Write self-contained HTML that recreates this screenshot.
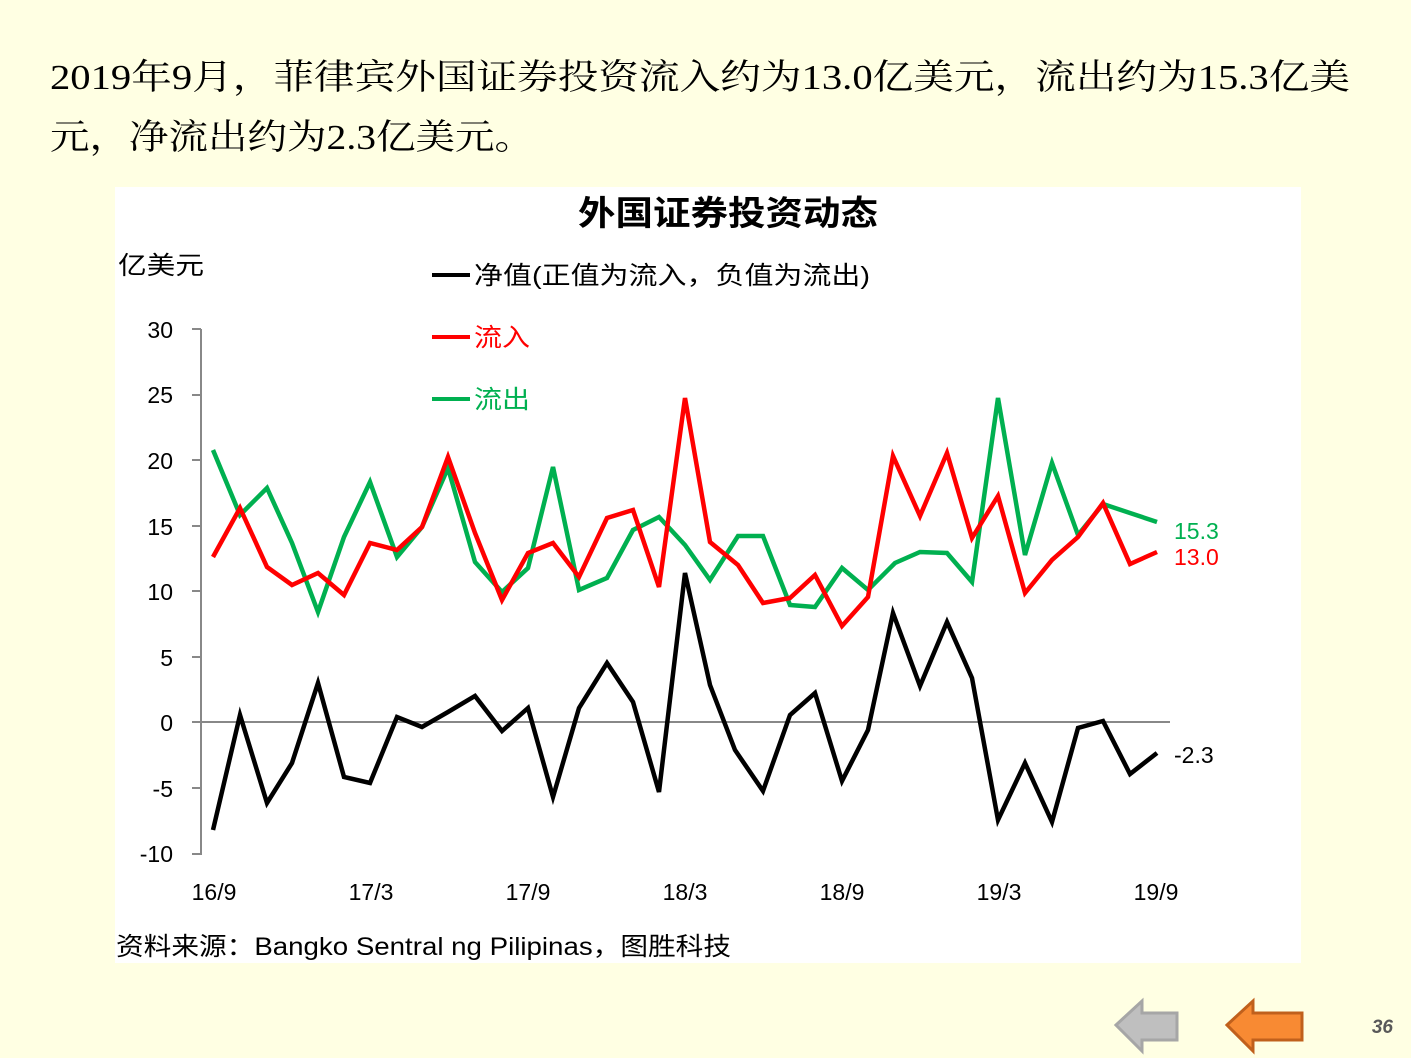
<!DOCTYPE html>
<html><head><meta charset="utf-8"><style>
html,body{margin:0;padding:0;background:#ffffe3;}
svg{display:block}
</style></head><body>
<svg width="1411" height="1058" viewBox="0 0 1411 1058" xmlns="http://www.w3.org/2000/svg">
<rect width="1411" height="1058" fill="#ffffe3"/>
<g font-family="'Liberation Serif','Noto Serif CJK SC',serif" font-size="35" fill="#000">
<text x="50" y="89" textLength="1300" lengthAdjust="spacingAndGlyphs">2019年9月，菲律宾外国证券投资流入约为13.0亿美元，流出约为15.3亿美</text>
<text x="50" y="149" textLength="484" lengthAdjust="spacingAndGlyphs">元，净流出约为2.3亿美元。</text>
</g>
<rect x="115" y="187" width="1186" height="776" fill="#fff"/>
<g font-family="'Liberation Sans','Noto Sans CJK SC',sans-serif">
<text x="578" y="225" font-size="34" font-weight="bold" textLength="300" lengthAdjust="spacingAndGlyphs">外国证券投资动态</text>
<text x="118" y="274" font-size="25" textLength="86" lengthAdjust="spacingAndGlyphs">亿美元</text>
<line x1="432" y1="275" x2="470" y2="275" stroke="#000" stroke-width="4"/>
<text x="474" y="284" font-size="25" textLength="396" lengthAdjust="spacingAndGlyphs">净值(正值为流入，负值为流出)</text>
<line x1="432" y1="337" x2="470" y2="337" stroke="#f00" stroke-width="4"/>
<text x="474" y="346" font-size="25" fill="#f00" textLength="56" lengthAdjust="spacingAndGlyphs">流入</text>
<line x1="432" y1="399" x2="470" y2="399" stroke="#00b050" stroke-width="4"/>
<text x="474" y="408" font-size="25" fill="#00b050" textLength="56" lengthAdjust="spacingAndGlyphs">流出</text>
<g font-size="23" text-anchor="end">
<text x="173" y="338">30</text><text x="173" y="403">25</text><text x="173" y="469">20</text>
<text x="173" y="535">15</text><text x="173" y="600">10</text><text x="173" y="666">5</text>
<text x="173" y="731">0</text><text x="173" y="797">-5</text><text x="173" y="862">-10</text>
</g>
<g font-size="23" text-anchor="middle">
<text x="214" y="900">16/9</text><text x="371" y="900">17/3</text><text x="528" y="900">17/9</text>
<text x="685" y="900">18/3</text><text x="842" y="900">18/9</text><text x="999" y="900">19/3</text>
<text x="1156" y="900">19/9</text>
</g>
<text x="1174" y="539" font-size="23" fill="#00b050">15.3</text>
<text x="1174" y="565" font-size="23" fill="#f00">13.0</text>
<text x="1174" y="763" font-size="23">-2.3</text>
<text x="116" y="955" font-size="25" textLength="615" lengthAdjust="spacingAndGlyphs">资料来源：Bangko Sentral ng Pilipinas，图胜科技</text>
</g>
<g stroke="#888" stroke-width="2" fill="none">
<line x1="201" y1="329" x2="201" y2="855"/>
<line x1="201" y1="722" x2="1170" y2="722"/>
<path d="M192 329H201M192 395H201M192 460H201M192 526H201M192 591H201M192 657H201M192 722H201M192 788H201M192 854H201"/>
</g>
<g fill="none" stroke-width="4.5" stroke-linejoin="miter">
<polyline stroke="#00b050" points="213,450 240,515 267,488 292,543 318,612 344,537 370,482 397,557 422,527 448,468 475,562 502,592 528,568 553,467 579,590 607,578 633,530 659,517 685,545 710,580 738,536 763,536 790,605 815,607 842,568 868,590 895,563 920,552 947,553 972,582 998,398 1025,555 1052,463 1078,535 1103,504 1130,513 1157,522"/>
<polyline stroke="#f00" points="213,557 240,508 267,567 292,585 318,573 344,595 370,543 397,550 422,527 448,457 475,533 502,600 528,553 553,543 579,577 607,518 633,510 659,587 685,398 710,542 738,565 763,603 790,598 815,575 842,626 868,597 893,456 920,516 947,453 972,538 998,496 1025,593 1052,560 1078,537 1103,503 1130,564 1157,552"/>
<polyline stroke="#000" points="213,830 240,715 267,803 292,763 318,683 344,777 370,783 397,717 422,727 448,712 475,696 502,731 528,708 553,797 579,708 607,663 633,702 659,792 685,573 710,685 735,750 763,791 790,715 815,693 842,781 868,730 893,613 920,686 947,622 972,678 998,820 1025,763 1052,822 1078,728 1103,721 1130,774 1157,753"/>
</g>
<path d="M1116,1025 L1142,1001 L1142,1013 L1177,1013 L1177,1040 L1142,1040 L1142,1051 Z" fill="#bfbfbf" stroke="#a6a6a6" stroke-width="3"/>
<path d="M1227,1025 L1253,1001 L1253,1013 L1302,1013 L1302,1040 L1253,1040 L1253,1051 Z" fill="#f88a33" stroke="#c0601c" stroke-width="3"/>
<text x="1393" y="1033" font-family="'Liberation Sans',sans-serif" font-size="19" font-style="italic" font-weight="bold" fill="#595959" text-anchor="end">36</text>
</svg>
</body></html>
